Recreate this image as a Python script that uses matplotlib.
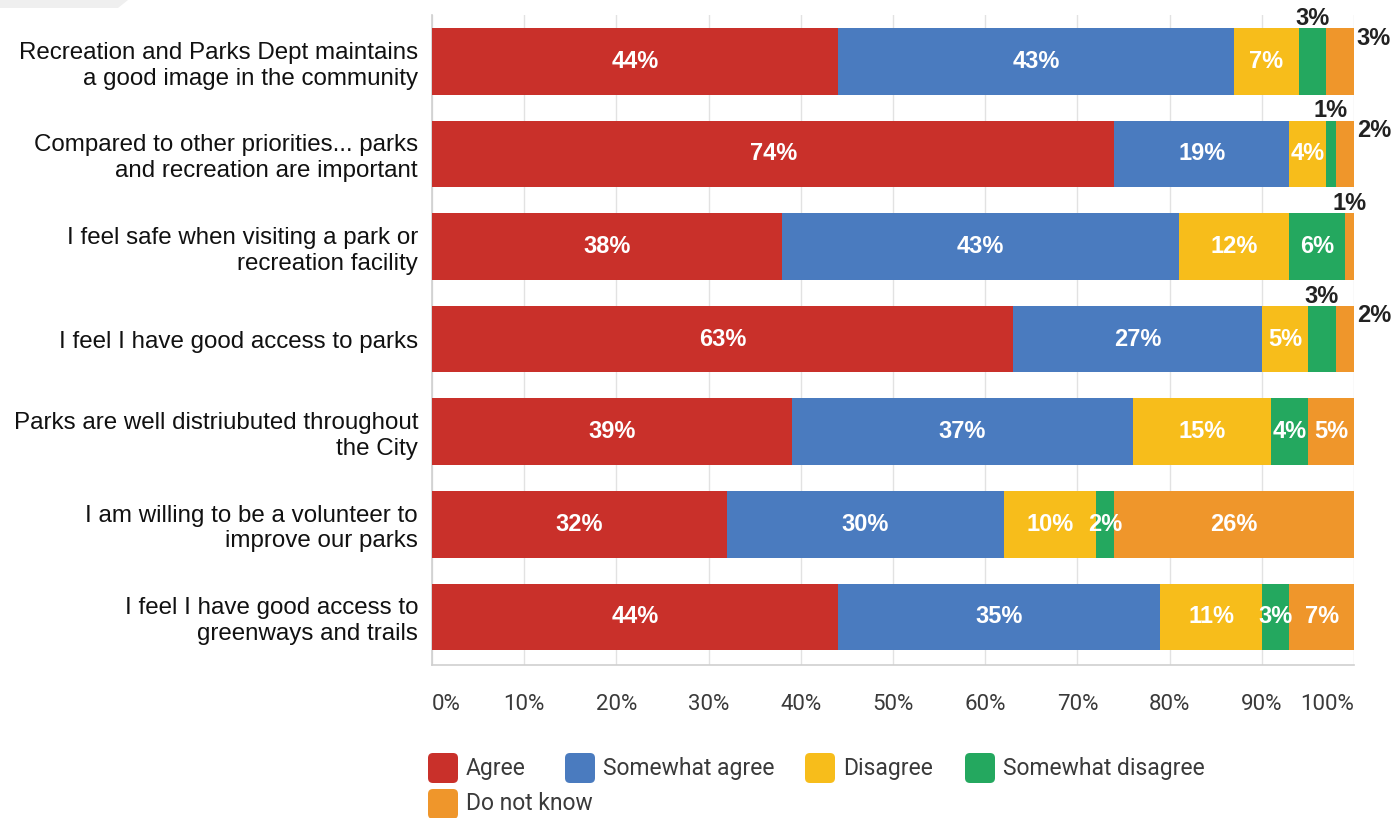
import matplotlib
matplotlib.use("Agg")
import matplotlib.pyplot as plt
from matplotlib.patches import FancyBboxPatch, Polygon

# Survey statements (top to bottom)
statements = [
    "Recreation and Parks Dept maintains\na good image in the community",
    "Compared to other priorities... parks\nand recreation are important",
    "I feel safe when visiting a park or\nrecreation facility",
    "I feel I have good access to parks",
    "Parks are well distriubuted throughout\nthe City",
    "I am willing to be a volunteer to\nimprove our parks",
    "I feel I have good access to\ngreenways and trails",
]

responses = ["Agree", "Somewhat agree", "Disagree", "Somewhat disagree", "Do not know"]

agree = [44, 74, 38, 63, 39, 32, 44]
somewhat_agree = [43, 19, 43, 27, 37, 30, 35]
disagree = [7, 4, 12, 5, 15, 10, 11]
somewhat_disagree = [3, 1, 6, 3, 4, 2, 3]
do_not_know = [3, 2, 1, 2, 5, 26, 7]

tick_values = [0, 10, 20, 30, 40, 50, 60, 70, 80, 90, 100]
tick_labels = ["0%", "10%", "20%", "30%", "40%", "50%", "60%", "70%", "80%", "90%", "100%"]

series = [agree, somewhat_agree, disagree, somewhat_disagree, do_not_know]
colors = ["#C9302A", "#4A7BBF", "#F7BD1B", "#24A85F", "#EF962B"]

# labels of narrow segments drawn outside the bar
outside = {(0, 3): "above", (0, 4): "right",
           (1, 3): "above", (1, 4): "right",
           (2, 4): "above",
           (3, 3): "above", (3, 4): "right"}

W, H, DPI = 1393, 818, 100
fig = plt.figure(figsize=(W / DPI, H / DPI), dpi=DPI)
fig.patch.set_facecolor("white")

left, right, top, bottom = 432, 1354, 15, 665
ax = fig.add_axes([left / W, 1 - bottom / H, (right - left) / W, (bottom - top) / H])

bar_h = 0.72
val_fs = 17
ys = list(range(len(statements)))
starts = [0] * len(statements)
for si, (vals, col) in enumerate(zip(series, colors)):
    ax.barh(ys, vals, left=starts, height=bar_h, color=col, edgecolor="none", zorder=3)
    for i, v in enumerate(vals):
        cx = starts[i] + v / 2
        mode = outside.get((i, si))
        txt = f"{v}%"
        if mode == "above":
            ax.text(cx, i - bar_h / 2 + 0.02, txt, ha="center", va="bottom",
                    color="#222222", fontsize=val_fs, fontweight="bold",
                    family="Liberation Sans", zorder=4)
        elif mode == "right":
            ax.text(100.3, i - 0.25, txt, ha="left", va="center",
                    color="#222222", fontsize=val_fs, fontweight="bold",
                    family="Liberation Sans", zorder=4, clip_on=False)
        else:
            ax.text(cx, i, txt, ha="center", va="center", color="white",
                    fontsize=val_fs, fontweight="bold", family="Liberation Sans", zorder=4)
    starts = [s + v for s, v in zip(starts, vals)]

ax.set_xlim(0, 100)
ax.set_ylim(len(statements) - 0.48, -0.5)
ax.set_yticks(ys)
ax.set_yticklabels(statements, family="Liberation Sans", fontsize=17.4,
                   color="#111111", linespacing=1.22)
ax.set_xticks(tick_values)
ax.set_xticklabels(tick_labels, family="Roboto", fontsize=16,
                   color="#3A3A3A")
xl = ax.get_xticklabels()
xl[0].set_ha("left")
xl[-1].set_ha("right")
ax.tick_params(axis="y", length=0, pad=10)
ax.tick_params(axis="x", length=0, pad=21)

ax.grid(axis="x", color="#E2E2E2", linewidth=1, zorder=0)
for s in ["top", "right"]:
    ax.spines[s].set_visible(False)
ax.spines["left"].set_color("#CFCFCF")
ax.spines["bottom"].set_color("#CFCFCF")
ax.spines["left"].set_linewidth(1.2)
ax.spines["bottom"].set_linewidth(1.2)

# overlay in pixel units for the legend
ov = fig.add_axes([0, 0, 1, 1], facecolor="none")
ov.set_xlim(0, W)
ov.set_ylim(H, 0)
ov.axis("off")

ov.add_patch(Polygon([[0, 0], [128, 0], [118, 8], [0, 8]], closed=True,
                     facecolor="#EFEFEF", edgecolor="none"))

legend_pos = [(428, 768), (565, 768), (805, 768), (965, 768), (428, 804)]
for (x, y), name, col in zip(legend_pos, responses, colors):
    ov.add_patch(FancyBboxPatch((x + 3, y - 12), 24, 24,
                                boxstyle="round,pad=3,rounding_size=5",
                                facecolor=col, edgecolor="none"))
    ov.text(x + 38, y, name, ha="left", va="center", family="Roboto",
            fontsize=16.5, color="#3A3A3A")

fig.savefig("out.png", dpi=DPI, facecolor="white")
